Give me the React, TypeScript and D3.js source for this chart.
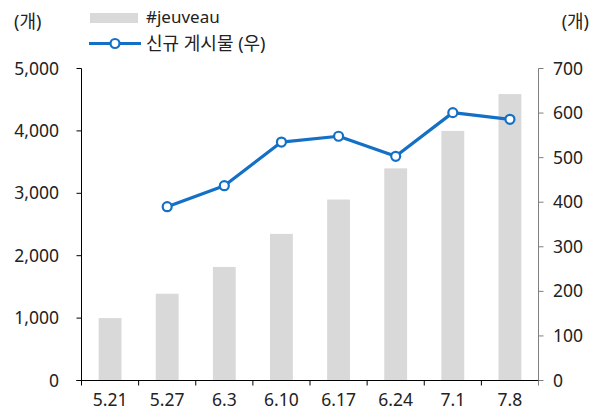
import React, { useEffect, useRef } from "react";
import * as d3 from "d3";

const categories = ["5.21", "5.27", "6.3", "6.10", "6.17", "6.24", "7.1", "7.8"];
const jeuveauCounts = [1000, 1390, 1820, 2350, 2900, 3400, 4000, 4590];
const newPosts: (number | null)[] = [null, 390, 437, 535, 548, 503, 601, 586];
const leftTicks = [0, 1000, 2000, 3000, 4000, 5000];
const rightTicks = [0, 100, 200, 300, 400, 500, 600, 700];
const barLabel = "#jeuveau";
const lineLabel = "신규 게시물 (우)";
const unitLabel = "(개)";

const W = 598;
const H = 414;
const FONT = "'Noto Sans', 'Noto Sans CJK KR', sans-serif";
const BLUE = "#1370c6";
const BAR = "#d9d9d9";
const TEXT = "#222";

export default function App() {
  const ref = useRef<SVGSVGElement>(null);

  useEffect(() => {
    const svg = d3.select(ref.current);
    svg.selectAll("*").remove();

    const left = 81.5;
    const right = 538.5;
    const top = 68.5;
    const bottom = 380.5;

    const x = d3.scaleBand<string>().domain(categories).range([left, right]).paddingInner(0.6).paddingOuter(0.3);
    const xEdge = d3.scaleLinear().domain([0, categories.length]).range([left, right]);
    const yL = d3.scaleLinear().domain([0, 5000]).range([bottom, top]);
    const yR = d3.scaleLinear().domain([0, 700]).range([bottom, top]);

    // bars
    svg
      .append("g")
      .selectAll("rect")
      .data(jeuveauCounts)
      .join("rect")
      .attr("x", (_, i) => x(categories[i])!)
      .attr("width", x.bandwidth())
      .attr("y", (d) => yL(d))
      .attr("height", (d) => bottom - yL(d))
      .attr("fill", BAR);

    // left axis
    const gL = svg.append("g");
    gL.append("line").attr("x1", left).attr("x2", left).attr("y1", top).attr("y2", bottom).attr("stroke", "#000").attr("stroke-width", 1);
    leftTicks.forEach((t) => {
      gL.append("line").attr("x1", left - 5).attr("x2", left).attr("y1", yL(t)).attr("y2", yL(t)).attr("stroke", "#000");
      gL.append("text")
        .attr("x", 59)
        .attr("y", yL(t))
        .attr("dy", "0.35em")
        .attr("text-anchor", "end")
        .attr("font-family", FONT)
        .attr("font-size", 17.5)
        .attr("fill", TEXT)
        .text(d3.format(",")(t));
    });

    // right axis
    const gR = svg.append("g");
    gR.append("line").attr("x1", right).attr("x2", right).attr("y1", top).attr("y2", bottom).attr("stroke", "#7f7f7f").attr("stroke-width", 1);
    rightTicks.forEach((t) => {
      gR.append("line").attr("x1", right).attr("x2", right + 5).attr("y1", yR(t)).attr("y2", yR(t)).attr("stroke", "#7f7f7f");
      gR.append("text")
        .attr("x", 553)
        .attr("y", yR(t))
        .attr("dy", "0.35em")
        .attr("text-anchor", "start")
        .attr("font-family", FONT)
        .attr("font-size", 17.5)
        .attr("fill", TEXT)
        .text(String(t));
    });

    // bottom axis
    const gB = svg.append("g");
    gB.append("line").attr("x1", left - 5).attr("x2", right).attr("y1", bottom).attr("y2", bottom).attr("stroke", "#000");
    d3.range(categories.length + 1).forEach((i) => {
      gB.append("line").attr("x1", xEdge(i)).attr("x2", xEdge(i)).attr("y1", bottom).attr("y2", bottom + 5).attr("stroke", i === categories.length ? "#7f7f7f" : "#000");
    });
    categories.forEach((c) => {
      gB.append("text")
        .attr("x", x(c)! + x.bandwidth() / 2)
        .attr("y", 406)
        .attr("text-anchor", "middle")
        .attr("font-family", FONT)
        .attr("font-size", 17.5)
        .attr("fill", TEXT)
        .text(c);
    });

    // line series
    const pts = newPosts
      .map((v, i) => ({ v, c: categories[i] }))
      .filter((p) => p.v !== null) as { v: number; c: string }[];
    const line = d3
      .line<{ v: number; c: string }>()
      .x((d) => x(d.c)! + x.bandwidth() / 2)
      .y((d) => yR(d.v));
    svg.append("path").attr("d", line(pts)!).attr("fill", "none").attr("stroke", BLUE).attr("stroke-width", 3.2).attr("stroke-linejoin", "round");
    svg
      .append("g")
      .selectAll("circle")
      .data(pts)
      .join("circle")
      .attr("cx", (d) => x(d.c)! + x.bandwidth() / 2)
      .attr("cy", (d) => yR(d.v))
      .attr("r", 4.5)
      .attr("fill", "#fff")
      .attr("stroke", BLUE)
      .attr("stroke-width", 2.2);

    // unit labels
    [[14, "start"], [589, "end"]].forEach(([px, anchor]) => {
      svg.append("text")
        .attr("x", px as number)
        .attr("y", 22)
        .attr("dy", "0.35em")
        .attr("text-anchor", anchor as string)
        .attr("font-family", FONT)
        .attr("font-size", 18)
        .attr("fill", TEXT)
        .text(unitLabel);
    });

    // legend
    const lg = svg.append("g");
    lg.append("rect").attr("x", 90).attr("y", 13).attr("width", 48).attr("height", 10).attr("fill", BAR);
    lg.append("text").attr("x", 146).attr("y", 17).attr("dy", "0.35em").attr("font-family", FONT).attr("font-size", 17).attr("fill", TEXT).text(barLabel);
    lg.append("line").attr("x1", 89).attr("x2", 141).attr("y1", 43.5).attr("y2", 43.5).attr("stroke", BLUE).attr("stroke-width", 3.2);
    lg.append("circle").attr("cx", 115).attr("cy", 43.5).attr("r", 4.5).attr("fill", "#fff").attr("stroke", BLUE).attr("stroke-width", 2.2);
    lg.append("text").attr("x", 146).attr("y", 43.5).attr("dy", "0.35em").attr("font-family", FONT).attr("font-size", 18).attr("fill", TEXT).text(lineLabel);
  }, []);

  return (
    <svg
      ref={ref}
      width={W}
      height={H}
      style={{ position: "absolute", left: 0, top: 0, background: "#fff" }}
    />
  );
}
